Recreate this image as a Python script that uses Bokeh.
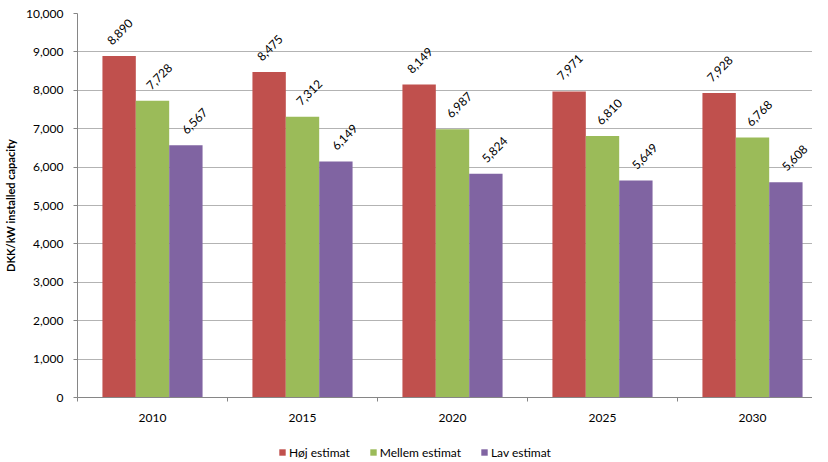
from bokeh.plotting import figure
from bokeh.layouts import column
from bokeh.models import (ColumnDataSource, LabelSet, Legend, LegendItem, FixedTicker,
                          NumeralTickFormatter, Range1d)
from bokeh.transform import dodge
from bokeh.core.properties import value
from bokeh.embed import file_html
from bokeh.resources import INLINE

years = ["2010", "2015", "2020", "2025", "2030"]
hoj = [8890, 8475, 8149, 7971, 7928]
mellem = [7728, 7312, 6987, 6810, 6768]
lav = [6567, 6149, 5824, 5649, 5608]
series_names = ["Høj estimat", "Mellem estimat", "Lav estimat"]
colors = ["#C0504D", "#9BBB59", "#8064A2"]
y_ticks = list(range(0, 10001, 1000))

FONT = "Lato"
BAR_W = 0.2225
AXIS_C = "#868686"

src = ColumnDataSource(dict(
    idx=list(range(len(years))),
    year=years,
    hoj=hoj, mellem=mellem, lav=lav,
    hoj_lbl=[f"{v:,}" for v in hoj],
    mellem_lbl=[f"{v:,}" for v in mellem],
    lav_lbl=[f"{v:,}" for v in lav],
))

p = figure(width=812, height=436, output_backend="svg", toolbar_location=None,
           x_range=Range1d(-0.5, 4.40), y_range=Range1d(0, 10000),
           min_border_left=74, min_border_right=0, min_border_top=13,
           min_border_bottom=39)
p.outline_line_color = None

renderers = []
offsets = [-BAR_W, 0, BAR_W]
x_offs = [1, 7, 9]
for col, name, color, off, xo in zip(["hoj", "mellem", "lav"], series_names, colors, offsets, x_offs):
    r = p.vbar(x=dodge("idx", off, range=p.x_range), top=col, width=BAR_W, source=src,
               fill_color=color, line_color=None)
    renderers.append(r)
    lbl = LabelSet(x=dodge("idx", off, range=p.x_range), y=col, text=col + "_lbl", source=src,
                   angle=45, angle_units="deg", text_align="center", text_baseline="middle",
                   x_offset=xo, y_offset=24, text_font=value(FONT), text_font_size="12px",
                   text_color="#000000")
    p.add_layout(lbl)

# x axis
p.xaxis.ticker = FixedTicker(ticks=list(range(len(years))),
                             minor_ticks=[i - 0.5 for i in range(len(years) + 1)])
p.xaxis.major_label_overrides = {i: y for i, y in enumerate(years)}
p.xaxis.major_tick_out = 0
p.xaxis.major_tick_in = 0
p.xaxis.minor_tick_out = 4
p.xaxis.minor_tick_in = 0
p.xaxis.minor_tick_line_color = AXIS_C
p.xaxis.axis_line_color = AXIS_C
p.xaxis.major_label_standoff = 12
p.xaxis.major_label_text_font = FONT
p.xaxis.major_label_text_font_size = "12px"
p.xaxis.major_label_text_color = "#000000"
p.xgrid.grid_line_color = None

# y axis
p.yaxis.ticker = FixedTicker(ticks=y_ticks)
p.yaxis.formatter = NumeralTickFormatter(format="0,0")
p.yaxis.major_tick_out = 4
p.yaxis.major_tick_in = 0
p.yaxis.minor_tick_line_color = None
p.yaxis.major_tick_line_color = AXIS_C
p.yaxis.axis_line_color = AXIS_C
p.yaxis.major_label_standoff = 10
p.yaxis.major_label_text_font = FONT
p.yaxis.major_label_text_font_size = "12px"
p.yaxis.major_label_text_color = "#000000"
p.yaxis.axis_label = "DKK/kW installed capacity"
p.yaxis.axis_label_text_font = FONT
p.yaxis.axis_label_text_font_size = "11px"
p.yaxis.axis_label_text_font_style = "bold"
p.yaxis.axis_label_text_color = "#000000"
p.yaxis.axis_label_standoff = 6
p.ygrid.ticker = FixedTicker(ticks=y_ticks)
p.ygrid.grid_line_color = "#B3B3B3"

# legend strip: its own small figure; its zero-width bars sit outside its visible range,
# so only the legend swatches show
lf = figure(width=812, height=24, output_backend="svg", toolbar_location=None,
            x_range=Range1d(-0.5, 4.40), y_range=Range1d(-20000, -10000),
            min_border_left=0, min_border_right=0, min_border_top=0, min_border_bottom=0)
lf.axis.visible = False
lf.grid.visible = False
lf.outline_line_color = None
leg_renderers = []
for col, color in zip(["hoj", "mellem", "lav"], colors):
    leg_renderers.append(lf.vbar(x="idx", top=col, width=0, source=src,
                                 fill_color=color, line_color=None))

legend = Legend(items=[LegendItem(label=n, renderers=[r]) for n, r in zip(series_names, leg_renderers)],
                orientation="horizontal", location=(201, 0),
                glyph_width=8, glyph_height=8, label_standoff=3, spacing=19,
                padding=4, margin=0, border_line_color=None, background_fill_alpha=0,
                label_text_font=FONT, label_text_font_size="12px", label_height=16,
                label_text_color="#000000")
lf.add_layout(legend)

layout = column(p, lf, spacing=0)
open("out.html", "w").write(file_html(layout, INLINE))
